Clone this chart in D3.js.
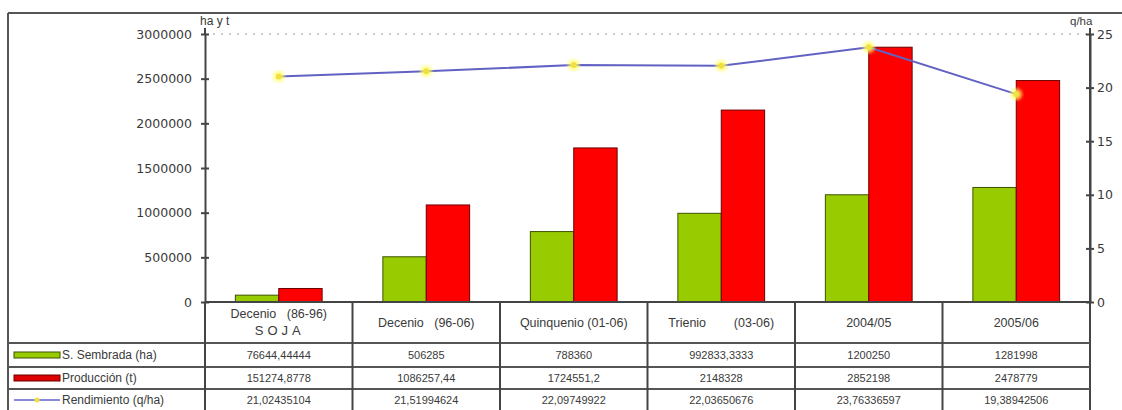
<!DOCTYPE html>
<html>
<head>
<meta charset="utf-8">
<script src="https://cdn.jsdelivr.net/npm/d3@7/dist/d3.min.js"></script>
<style>
  html, body { margin: 0; padding: 0; background: #fff; }
  svg { display: block; }
  text { font-family: "Liberation Sans", Arial, sans-serif; fill: #3a3a3a; }
  .ax text { font-family: "DejaVu Sans", sans-serif; }
</style>
</head>
<body>
<svg id="chart" width="1122" height="410"></svg>
<script>
// Soja: superficie sembrada, producción y rendimiento por período
const categories = ["Decenio   (86-96)", "Decenio   (96-06)", "Quinquenio (01-06)", "Trienio        (03-06)", "2004/05", "2005/06"];
const sembrada = [76644.44444, 506285, 788360, 992833.3333, 1200250, 1281998];
const produccion = [151274.8778, 1086257.44, 1724551.2, 2148328, 2852198, 2478779];
const rendimiento = [21.02435104, 21.51994624, 22.09749922, 22.03650676, 23.76336597, 19.38942506];
const leftTicks = [0, 500000, 1000000, 1500000, 2000000, 2500000, 3000000];
const rightTicks = [0, 5, 10, 15, 20, 25];
const seriesNames = ["S. Sembrada (ha)", "Producción (t)", "Rendimiento (q/ha)"];

const svg = d3.select("#chart");
const W = 1122, H = 410;
const plotL = 205, plotR = 1090, plotT = 34, base = 302;

const x = d3.scaleBand().domain(categories).range([plotL, plotR]).paddingInner(0).paddingOuter(0);
const inner = d3.scaleBand().domain(["s", "p"]).range([0, x.bandwidth()]).paddingInner(0).paddingOuter(0.7);
const yL = d3.scaleLinear().domain([0, 3000000]).range([base, plotT]);
const yR = d3.scaleLinear().domain([0, 25]).range([base, plotT]);

// outer frame
svg.append("line").attr("x1", 8).attr("x2", W).attr("y1", 13).attr("y2", 13).attr("stroke", "#555").attr("stroke-width", 2);
svg.append("line").attr("x1", 8).attr("x2", 8).attr("y1", 13).attr("y2", H).attr("stroke", "#555").attr("stroke-width", 2);

// dotted gridline at the top
svg.append("line").attr("x1", plotL).attr("x2", plotR).attr("y1", yL(3000000)).attr("y2", yL(3000000))
  .attr("stroke", "#bbb").attr("stroke-width", 1.5).attr("stroke-dasharray", "2,6");

// bars
const g = svg.append("g");
categories.forEach((c, i) => {
  g.append("rect").attr("x", x(c) + inner("s")).attr("width", inner.bandwidth())
    .attr("y", yL(sembrada[i])).attr("height", base - yL(sembrada[i]))
    .attr("fill", "#99cc00").attr("stroke", "#3d5200").attr("stroke-width", 1);
  g.append("rect").attr("x", x(c) + inner("p")).attr("width", inner.bandwidth())
    .attr("y", yL(produccion[i])).attr("height", base - yL(produccion[i]))
    .attr("fill", "#ff0000").attr("stroke", "#6a0000").attr("stroke-width", 1);
});

// yield line
const cx = (c) => x(c) + x.bandwidth() / 2;
const line = d3.line().x((d, i) => cx(categories[i])).y(d => yR(d));
svg.append("path").datum(rendimiento).attr("d", line).attr("fill", "none")
  .attr("stroke", "#6262c4").attr("stroke-width", 2);
const glow = svg.append("defs").append("filter").attr("id", "glow");
glow.append("feGaussianBlur").attr("stdDeviation", 1.6);
svg.selectAll(".mk-halo").data(rendimiento).enter().append("circle")
  .attr("cx", (d, i) => cx(categories[i])).attr("cy", d => yR(d)).attr("r", 6)
  .attr("fill", "#ffff66").attr("opacity", 0.7).attr("filter", "url(#glow)");
svg.selectAll(".mk").data(rendimiento).enter().append("circle")
  .attr("cx", (d, i) => cx(categories[i])).attr("cy", d => yR(d)).attr("r", 3)
  .attr("fill", "#f0e040");

// left axis
const axL = d3.axisLeft(yL).tickValues(leftTicks).tickSize(0).tickPadding(13).tickFormat(d3.format("d"));
const gL = svg.append("g").attr("class", "ax").attr("transform", `translate(${plotL},0)`).call(axL);
gL.select(".domain").attr("stroke", "#444").attr("stroke-width", 2);
gL.selectAll(".tick").append("line").attr("x1", -4).attr("x2", 4).attr("stroke", "#444").attr("stroke-width", 2);
gL.selectAll(".tick text").style("font-size", "12.5px").attr("fill", "#3a3a3a");
svg.append("line").attr("x1", plotL).attr("x2", plotL).attr("y1", plotT - 6).attr("y2", plotT).attr("stroke", "#444").attr("stroke-width", 2);

// right axis
const axR = d3.axisRight(yR).tickValues(rightTicks).tickSize(0).tickPadding(7);
const gR = svg.append("g").attr("class", "ax").attr("transform", `translate(${plotR},0)`).call(axR);
gR.select(".domain").attr("stroke", "#444").attr("stroke-width", 2);
gR.selectAll(".tick").append("line").attr("x1", -4).attr("x2", 4).attr("stroke", "#444").attr("stroke-width", 2);
gR.selectAll(".tick text").style("font-size", "12.5px").attr("fill", "#3a3a3a");
svg.append("line").attr("x1", plotR).attr("x2", plotR).attr("y1", plotT - 6).attr("y2", H).attr("stroke", "#444").attr("stroke-width", 2);

// axis unit labels
svg.append("text").attr("x", 200).attr("y", 25).style("font-size", "12px").text("ha y t");
svg.append("text").attr("x", 1070).attr("y", 25).style("font-size", "11.5px").text("q/ha");

// data table
const rowY = [base, 343, 367, 389, H];
const tbl = svg.append("g");
[343, 367, 389].forEach(yv => {
  tbl.append("line").attr("x1", 8).attr("x2", plotR).attr("y1", yv).attr("y2", yv).attr("stroke", "#555").attr("stroke-width", 2);
});
tbl.append("line").attr("x1", plotL).attr("x2", plotR).attr("y1", base).attr("y2", base).attr("stroke", "#444").attr("stroke-width", 2);
categories.forEach(c => {
  tbl.append("line").attr("x1", x(c)).attr("x2", x(c)).attr("y1", base).attr("y2", H).attr("stroke", "#444").attr("stroke-width", 2);
});

// header labels
categories.forEach((c, i) => {
  const t = tbl.append("text").attr("x", cx(c)).attr("text-anchor", "middle").style("font-size", "12.5px").style("white-space", "pre").attr("xml:space", "preserve");
  if (i === 0) {
    t.attr("y", 318).text(c);
    tbl.append("text").attr("x", cx(c) + 1).attr("y", 335).attr("text-anchor", "middle").style("font-size", "13px").style("letter-spacing", "4px").text("SOJA");
  } else {
    t.attr("y", 327).text(c);
  }
});

// value rows
const fmt = v => String(v).replace(".", ",");
[sembrada, produccion, rendimiento].forEach((arr, r) => {
  const yMid = (rowY[r + 1] + rowY[r + 2]) / 2 + 4;
  arr.forEach((v, i) => {
    tbl.append("text").attr("x", cx(categories[i])).attr("y", yMid).attr("text-anchor", "middle")
      .style("font-size", "11px").text(fmt(v));
  });
});

// legend keys in row headers
const keyY = [355, 378, 400];
tbl.append("rect").attr("x", 14).attr("y", keyY[0] - 3).attr("width", 46).attr("height", 6).attr("fill", "#99cc00").attr("stroke", "#3d5200");
tbl.append("rect").attr("x", 14).attr("y", keyY[1] - 3).attr("width", 46).attr("height", 6).attr("fill", "#dd0000").attr("stroke", "#6a0000");
tbl.append("line").attr("x1", 14).attr("x2", 60).attr("y1", keyY[2]).attr("y2", keyY[2]).attr("stroke", "#8a8ad8").attr("stroke-width", 2);
tbl.append("circle").attr("cx", 37).attr("cy", keyY[2]).attr("r", 2.5).attr("fill", "#f0e040");
seriesNames.forEach((s, i) => {
  tbl.append("text").attr("x", 62).attr("y", keyY[i] + 4).style("font-size", "12px").text(s);
});
</script>
</body>
</html>
